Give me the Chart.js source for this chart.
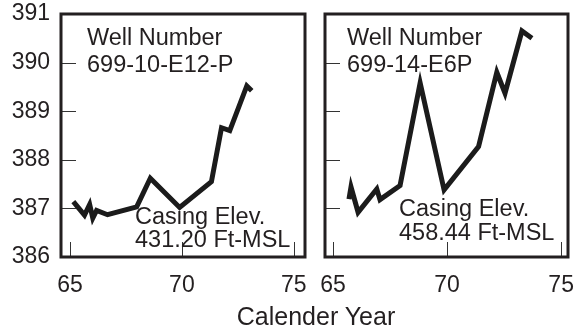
<!DOCTYPE html>
<html>
<head>
<meta charset="utf-8">
<script src="https://cdn.jsdelivr.net/npm/chart.js@4.4.0/dist/chart.umd.min.js"></script>
<style>
    html, body { margin: 0; padding: 0; background: #fff; overflow: hidden; }
    #wrap { position: relative; width: 575px; height: 331px; }
    canvas { position: absolute; left: 0; top: 0; }
    #xtitle {
        position: absolute; left: 0; width: 632px; top: 304px;
        text-align: center; font: 25px "Liberation Sans", Arial, sans-serif;
        line-height: 25px; color: #231f20;
    }
</style>
</head>
<body>
<div id="wrap">
    <canvas id="leftChart" width="600" height="331"></canvas>
    <canvas id="rightChart" width="600" height="331"></canvas>
    <div id="xtitle">Calender Year</div>
</div>
<script>
// 井 699-10-E12-P
const yearsA = [65.15, 65.65, 65.88, 66.02, 66.19, 66.68, 67.98, 68.59, 69.9, 71.32, 71.77, 72.14, 72.9, 73.12];
const levelsA = [387.14, 386.86, 387.08, 386.8, 386.96, 386.87, 387.03, 387.62, 387.02, 387.55, 388.66, 388.6, 389.52, 389.42];

// 井 699-14-E6P
const yearsB = [65.7, 65.79, 66.1, 66.92, 67.06, 67.94, 68.82, 69.87, 71.38, 72.18, 72.54, 73.28, 73.72];
const levelsB = [387.19, 387.44, 386.92, 387.4, 387.18, 387.47, 389.58, 387.38, 388.27, 389.8, 389.37, 390.65, 390.5];

// 坐标刻度
const xTicks = [65, 70, 75];
const yTicks = [386, 387, 388, 389, 390, 391];

const FONT = '"Liberation Sans", Arial, Helvetica, sans-serif';
const INK = '#231f20';

// 边框 + 内向刻度 + 注释文字
const framePlugin = {
    id: 'frame',
    afterDraw(chart, args, opts) {
        const { ctx, chartArea: a, scales } = chart;
        ctx.save();
        // 内向刻度线
        ctx.strokeStyle = '#333';
        ctx.lineWidth = 1;
        ctx.beginPath();
        xTicks.forEach(v => {
            const x = Math.round(scales.x.getPixelForValue(v)) + 0.5;
            ctx.moveTo(x, a.bottom);
            ctx.lineTo(x, a.bottom - 15);
        });
        yTicks.slice(1, -1).forEach(v => {
            const y = Math.round(scales.y.getPixelForValue(v)) + 0.5;
            ctx.moveTo(a.left, y);
            ctx.lineTo(a.left + 15, y);
        });
        ctx.stroke();
        // 外框
        ctx.strokeStyle = INK;
        ctx.lineWidth = 3;
        ctx.strokeRect(a.left, a.top, a.right - a.left, a.bottom - a.top);
        // 注释
        ctx.fillStyle = INK;
        ctx.font = '23.5px ' + FONT;
        ctx.textBaseline = 'alphabetic';
        (opts.labels || []).forEach(t => ctx.fillText(t.text, t.x, t.y));
        ctx.restore();
    }
};

function makeOptions(xMin, xMax, pad, showY, labels) {
    return {
        responsive: false,
        animation: false,
        layout: { padding: pad },
        plugins: {
            legend: { display: false },
            tooltip: { enabled: false },
            frame: { labels: labels }
        },
        elements: { point: { radius: 0 } },
        scales: {
            x: {
                type: 'linear',
                min: xMin,
                max: xMax,
                afterBuildTicks: s => { s.ticks = xTicks.map(v => ({ value: v })); },
                afterFit: s => { s.height = 74; s.paddingLeft = 0; s.paddingRight = 0; },
                grid: { display: false, drawTicks: false },
                border: { display: false },
                ticks: { color: INK, font: { family: FONT, size: 23 }, padding: 15 }
            },
            y: {
                display: showY,
                min: 386,
                max: 391,
                afterBuildTicks: s => { s.ticks = yTicks.map(v => ({ value: v })); },
                afterFit: s => { s.width = showY ? 61 : 0; s.paddingTop = 0; s.paddingBottom = 0; },
                grid: { display: false, drawTicks: false },
                border: { display: false },
                ticks: { color: INK, font: { family: FONT, size: 23 }, padding: 11 }
            }
        }
    };
}

function makeData(xs, ys) {
    return {
        datasets: [{
            data: xs.map((x, i) => ({ x: x, y: ys[i] })),
            borderColor: '#1b1b1b',
            borderWidth: 5,
            borderJoinStyle: 'miter',
            borderCapStyle: 'butt',
            tension: 0,
            fill: false
        }]
    };
}

new Chart(document.getElementById('leftChart'), {
    type: 'line',
    data: makeData(yearsA, levelsA),
    options: makeOptions(64.6, 75.5, { top: 14, left: 0, right: 295, bottom: 0 }, true, [
        { text: 'Well Number', x: 87, y: 45 },
        { text: '699-10-E12-P', x: 87, y: 72 },
        { text: 'Casing Elev.', x: 135, y: 224 },
        { text: '431.20 Ft-MSL', x: 135, y: 247 }
    ]),
    plugins: [framePlugin]
});

new Chart(document.getElementById('rightChart'), {
    type: 'line',
    data: makeData(yearsB, levelsB),
    options: makeOptions(64.65, 75.3, { top: 14, left: 325, right: 32, bottom: 0 }, false, [
        { text: 'Well Number', x: 347, y: 45 },
        { text: '699-14-E6P', x: 347, y: 72 },
        { text: 'Casing Elev.', x: 399, y: 216 },
        { text: '458.44 Ft-MSL', x: 399, y: 240 }
    ]),
    plugins: [framePlugin]
});
</script>
</body>
</html>
